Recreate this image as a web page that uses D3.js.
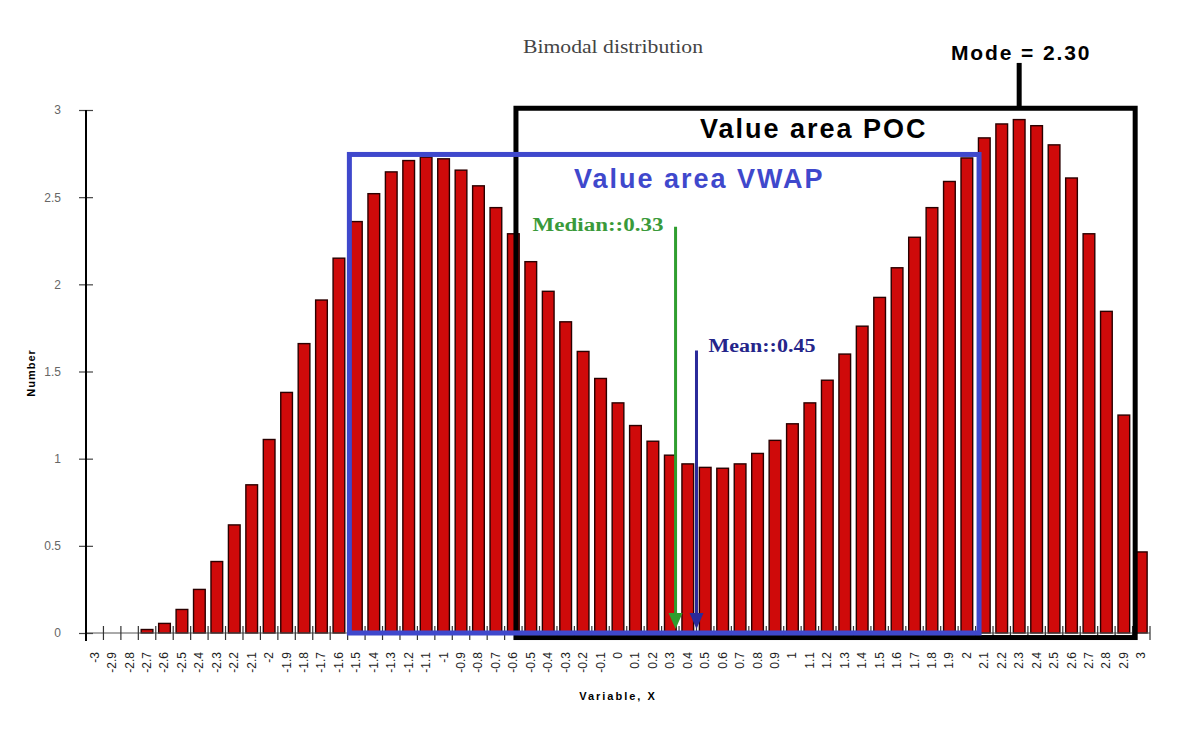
<!DOCTYPE html>
<html>
<head>
<meta charset="utf-8">
<script src="https://cdn.jsdelivr.net/npm/d3@7"></script>
<style>
  body { margin: 0; background: #fff; }
  #dataviz text { font-family: "Liberation Sans", Arial, sans-serif; }
</style>
</head>
<body>
<div id="dataviz"></div>
<script>
// bin labels on the x axis (-3 .. 3, step 0.1)
var categories = ["-3","-2.9","-2.8","-2.7","-2.6","-2.5","-2.4","-2.3","-2.2","-2.1",
  "-2","-1.9","-1.8","-1.7","-1.6","-1.5","-1.4","-1.3","-1.2","-1.1",
  "-1","-0.9","-0.8","-0.7","-0.6","-0.5","-0.4","-0.3","-0.2","-0.1",
  "0","0.1","0.2","0.3","0.4","0.5","0.6","0.7","0.8","0.9",
  "1","1.1","1.2","1.3","1.4","1.5","1.6","1.7","1.8","1.9",
  "2","2.1","2.2","2.3","2.4","2.5","2.6","2.7","2.8","2.9","3"];

// bar heights
var counts = [0, 0, 0, 0.02, 0.055, 0.135, 0.25, 0.41, 0.62, 0.85,
  1.11, 1.38, 1.66, 1.91, 2.15, 2.36, 2.52, 2.645, 2.71, 2.73,
  2.72, 2.655, 2.565, 2.44, 2.29, 2.13, 1.96, 1.785, 1.615, 1.46,
  1.32, 1.19, 1.10, 1.02, 0.97, 0.95, 0.945, 0.97, 1.03, 1.105,
  1.20, 1.32, 1.45, 1.60, 1.76, 1.925, 2.095, 2.27, 2.44, 2.59,
  2.725, 2.84, 2.92, 2.945, 2.91, 2.80, 2.61, 2.29, 1.845, 1.25, 0.465];

var yTicks = [0, 0.5, 1, 1.5, 2, 2.5, 3];
var yTickLabels = ["0", "0.5", "1", "1.5", "2", "2.5", "3"];

// annotations (in data units)
var modeValue = 2.30, medianValue = 0.33, meanValue = 0.45;
var pocBox = [-0.585, 2.965, -0.026, 3.01];   // x0, x1, y0, y1
var vwapBox = [-1.54, 2.07, 0.0, 2.745];
var modeTop = 3.27, medianTop = 2.33, meanTop = 1.62;

window.onload = function() {
  var W = 1192, H = 740;
  var svg = d3.select("#dataviz").append("svg")
    .attr("width", W).attr("height", H);

  // scales
  var x = d3.scaleBand().domain(categories).range([86, 1150])
    .paddingInner(0.33).paddingOuter(0.165);
  var xv = d3.scaleLinear().domain([-3.05, 3.05]).range([86, 1150]);
  var y = d3.scaleLinear().domain([0, 3]).range([633, 110]);

  var data = categories.map(function(c, i){ return {cat: c, v: counts[i]}; });

  // title
  svg.append("text")
    .attr("x", 523).attr("y", 53)
    .attr("textLength", 180).attr("lengthAdjust", "spacingAndGlyphs")
    .style("font-family", "'Liberation Serif', 'Times New Roman', serif")
    .style("font-size", "18px").style("fill", "#444")
    .text("Bimodal distribution");

  // bars
  svg.selectAll("bars")
    .data(data.filter(function(d){ return d.v > 0; }))
    .enter()
    .append("rect")
      .attr("x", function(d){ return x(d.cat); })
      .attr("y", function(d){ return y(d.v); })
      .attr("width", x.bandwidth())
      .attr("height", function(d){ return y(0) - y(d.v); })
      .style("fill", "#cf0a0a")
      .style("stroke", "#2a0000")
      .style("stroke-width", 1.4);

  // x axis line + bin edge ticks
  svg.append("line")
    .attr("x1", 86).attr("x2", 1150).attr("y1", y(0)).attr("y2", y(0))
    .style("stroke", "#555").style("stroke-width", 1);
  var edges = categories.map(function(c){ return +c - 0.05; }).concat([3.05]);
  svg.selectAll("xticks")
    .data(edges)
    .enter()
    .append("line")
      .attr("x1", function(d){ return xv(d); })
      .attr("x2", function(d){ return xv(d); })
      .attr("y1", y(0) - 7).attr("y2", y(0) + 7)
      .style("stroke", "#333").style("stroke-width", 1.2);

  // x labels, rotated
  svg.selectAll("xlabels")
    .data(categories)
    .enter()
    .append("text")
      .attr("transform", function(d){
        return "translate(" + (x(d) + x.bandwidth() / 2 + 4) + ",652) rotate(-90)"; })
      .style("text-anchor", "end")
      .style("font-size", "12px")
      .style("fill", "#222")
      .text(function(d){ return d; });

  // y axis
  var yAxis = svg.append("g")
    .attr("transform", "translate(86,0)")
    .call(d3.axisLeft(y).tickValues(yTicks)
      .tickFormat(function(d, i){ return yTickLabels[i]; })
      .tickSizeInner(7).tickSizeOuter(0).tickPadding(18));
  yAxis.select(".domain").remove();
  yAxis.selectAll(".tick line").attr("x1", 7).attr("x2", -7)
    .style("stroke", "#444").style("stroke-width", 1.2);
  yAxis.selectAll(".tick text")
    .style("font-size", "12px").style("fill", "#666")
    .style("font-family", "'Liberation Sans', Arial, sans-serif");
  svg.append("line")
    .attr("x1", 86).attr("x2", 86).attr("y1", y(3)).attr("y2", y(0) + 8)
    .style("stroke", "#000").style("stroke-width", 2);

  // axis titles
  svg.append("text")
    .attr("transform", "translate(35,373) rotate(-90)")
    .style("text-anchor", "middle")
    .style("font-size", "11px").style("font-weight", "bold")
    .style("letter-spacing", "1px")
    .text("Number");
  svg.append("text")
    .attr("x", 618).attr("y", 700)
    .style("text-anchor", "middle")
    .style("font-size", "11px").style("font-weight", "bold")
    .style("letter-spacing", "2px")
    .text("Variable, X");

  // value area POC (black box)
  svg.append("rect")
    .attr("x", xv(pocBox[0])).attr("y", y(pocBox[3]))
    .attr("width", xv(pocBox[1]) - xv(pocBox[0]))
    .attr("height", y(pocBox[2]) - y(pocBox[3]))
    .style("fill", "none").style("stroke", "#000").style("stroke-width", 5);

  // value area VWAP (blue box)
  svg.append("rect")
    .attr("x", xv(vwapBox[0])).attr("y", y(vwapBox[3]))
    .attr("width", xv(vwapBox[1]) - xv(vwapBox[0]))
    .attr("height", y(vwapBox[2]) - y(vwapBox[3]))
    .style("fill", "none").style("stroke", "#3f48cc").style("stroke-width", 5);

  svg.append("text")
    .attr("x", 700).attr("y", 138)
    .style("font-size", "27px").style("font-weight", "bold")
    .style("letter-spacing", "2px")
    .style("fill", "#000")
    .text("Value area POC");
  svg.append("text")
    .attr("x", 574).attr("y", 188)
    .style("font-size", "27px").style("font-weight", "bold")
    .style("letter-spacing", "2px")
    .style("fill", "#3f48cc")
    .text("Value area VWAP");

  // mode marker
  svg.append("line")
    .attr("x1", xv(modeValue)).attr("x2", xv(modeValue))
    .attr("y1", y(modeTop)).attr("y2", y(pocBox[3]))
    .style("stroke", "#000").style("stroke-width", 5);
  svg.append("text")
    .attr("x", xv(modeValue) + 2).attr("y", 60)
    .style("text-anchor", "middle")
    .style("font-size", "21px").style("font-weight", "bold")
    .style("letter-spacing", "1.9px")
    .text("Mode = 2.30");

  // median + mean arrows
  function arrow(v, top, color, w) {
    var cx = xv(v), tip = y(0) - 4;
    svg.append("line")
      .attr("x1", cx).attr("x2", cx).attr("y1", y(top)).attr("y2", tip - 12)
      .style("stroke", color).style("stroke-width", w);
    svg.append("path")
      .attr("d", "M" + (cx - 7) + "," + (tip - 16) + " L" + (cx + 7) + "," + (tip - 16) +
        " L" + cx + "," + tip + " Z")
      .style("fill", color);
  }
  arrow(medianValue, medianTop, "#2f9e2f", 3);
  arrow(meanValue, meanTop, "#2a2a9a", 3);

  svg.append("text")
    .attr("x", xv(medianValue) - 12).attr("y", y(medianTop) + 4)
    .style("text-anchor", "end")
    .attr("textLength", 131).attr("lengthAdjust", "spacingAndGlyphs")
    .style("font-family", "'Liberation Serif', 'Times New Roman', serif")
    .style("font-size", "18px").style("font-weight", "bold")
    .style("fill", "#3a9a3a")
    .text("Median::0.33");
  svg.append("text")
    .attr("x", xv(meanValue) + 12).attr("y", y(meanTop) + 1)
    .attr("textLength", 107).attr("lengthAdjust", "spacingAndGlyphs")
    .style("font-family", "'Liberation Serif', 'Times New Roman', serif")
    .style("font-size", "18px").style("font-weight", "bold")
    .style("fill", "#25258a")
    .text("Mean::0.45");
};
</script>
</body>
</html>
